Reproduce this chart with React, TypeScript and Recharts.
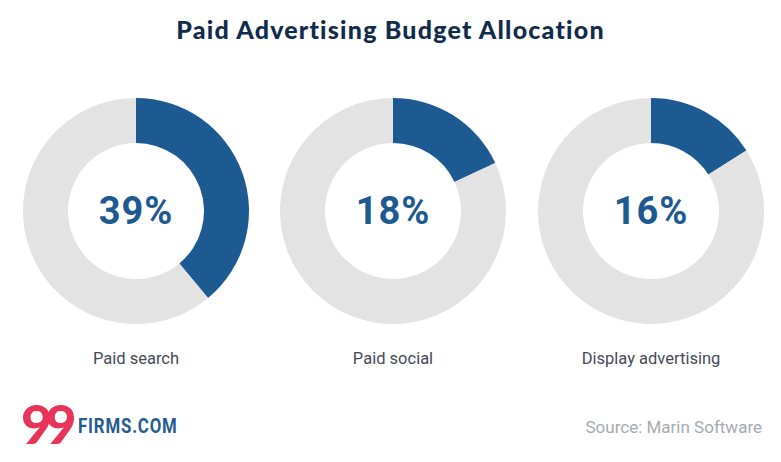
import React from 'react';
import { PieChart, Pie, Cell } from 'recharts';

const categories = ['Paid search', 'Paid social', 'Display advertising'];
const shares = [39, 18, 16];
const centersX = [136, 393, 651];

const BLUE = '#1d5a92';
const GREY = '#e3e3e3';

const W = 781;
const H = 462;
const CY = 211;

export default function App() {
  return (
    <div style={{ position: 'absolute', left: 0, top: 0, width: W, height: H, background: '#fff', overflow: 'hidden' }}>
      <div
        style={{
          position: 'absolute', left: 0, top: 14, width: W, textAlign: 'center',
          fontFamily: 'Lato', fontWeight: 900, fontSize: 25, letterSpacing: 1.2, color: '#112b4c',
        }}
      >
        Paid Advertising Budget Allocation
      </div>

      <div style={{ position: 'absolute', left: 0, top: 0 }}>
        <PieChart width={W} height={H} margin={{ top: 0, right: 0, bottom: 0, left: 0 }}>
          {shares.map((s, i) => (
            <Pie
              key={categories[i]}
              data={[{ name: categories[i], value: s }, { name: 'rest', value: 100 - s }]}
              dataKey="value"
              cx={centersX[i]}
              cy={CY}
              innerRadius={68}
              outerRadius={113}
              startAngle={90}
              endAngle={-270}
              stroke="none"
              isAnimationActive={false}
            >
              <Cell fill={BLUE} />
              <Cell fill={GREY} />
            </Pie>
          ))}
        </PieChart>
      </div>

      {shares.map((s, i) => (
        <div
          key={categories[i] + '-pct'}
          style={{
            position: 'absolute', left: centersX[i] - 60, width: 120, top: CY - 25, height: 50,
            lineHeight: '50px', textAlign: 'center', fontFamily: 'Roboto', fontWeight: 700,
            fontSize: 38, color: BLUE, letterSpacing: 1,
          }}
        >
          {s}%
        </div>
      ))}

      {categories.map((c, i) => (
        <div
          key={c}
          style={{
            position: 'absolute', left: centersX[i] - 120, width: 240, top: 349, textAlign: 'center',
            fontFamily: 'Roboto', fontSize: 16.5, color: '#444b55',
          }}
        >
          {c}
        </div>
      ))}

      <div
        style={{
          position: 'absolute', left: 21, top: 394, fontFamily: 'Lato', fontWeight: 900,
          fontSize: 54, color: '#e8345a', letterSpacing: -7, lineHeight: '60px',
        }}
      >
        99
      </div>
      <div
        style={{
          position: 'absolute', left: 78, top: 414, fontFamily: 'Roboto', fontWeight: 700,
          fontSize: 20, color: '#245c8f', letterSpacing: 1, transform: 'scaleX(0.84)',
          transformOrigin: 'left center',
        }}
      >
        FIRMS.COM
      </div>

      <div
        style={{
          position: 'absolute', right: 19, top: 417, fontFamily: 'Roboto', fontSize: 17, color: '#a6aab0',
        }}
      >
        Source: Marin Software
      </div>
    </div>
  );
}
